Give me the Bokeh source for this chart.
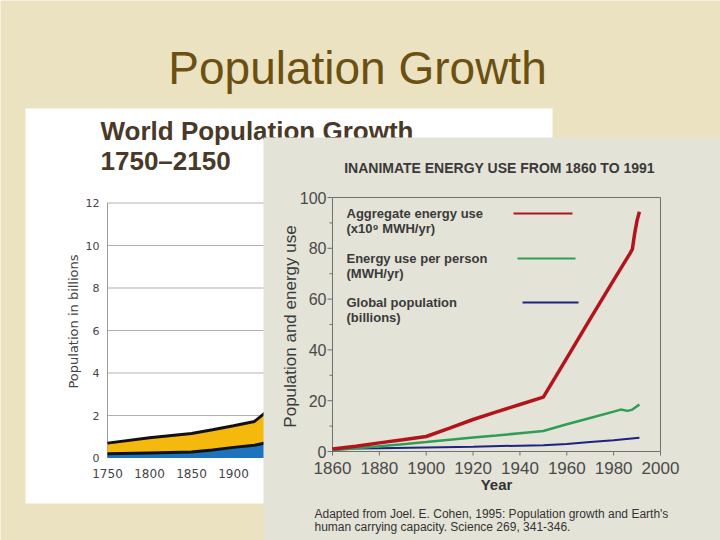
import math
from bokeh.plotting import figure
from bokeh.models import Range1d
from bokeh.core.properties import value
from bokeh.embed import file_html
from bokeh.resources import INLINE

# ---------------- data ----------------
slide_title = "Population Growth"

# World Population Growth 1750-2150 (billions), stacked
pop_title = "World Population Growth"
pop_subtitle = "1750\u20132150"
pop_years = [1750, 1800, 1850, 1875, 1900, 1925, 1950]
pop_developed = [0.20, 0.24, 0.28, 0.38, 0.50, 0.60, 0.81]
pop_total = [0.70, 0.95, 1.15, 1.33, 1.52, 1.72, 2.52]
pop_yticks = [0, 2, 4, 6, 8, 10, 12]
pop_xticks = [1750, 1800, 1850, 1900]
pop_ylabel = "Population in billions"

# Inanimate energy use 1860-1991
energy_title = "INANIMATE ENERGY USE FROM 1860 TO 1991"
agg_years = [1860, 1870, 1880, 1890, 1900, 1910, 1920, 1930, 1940, 1950,
             1960, 1970, 1980, 1987, 1988, 1989, 1990, 1991]
agg_energy = [1.0, 2.1, 3.4, 4.6, 5.9, 9.2, 12.6, 15.6, 18.5, 21.4,
              36.8, 52.2, 67.5, 78.0, 79.7, 86.0, 91.0, 94.4]
pp_years = [1860, 1870, 1880, 1890, 1900, 1910, 1920, 1930, 1940, 1950,
            1960, 1970, 1980, 1983, 1986, 1988, 1991]
per_person = [0.5, 1.3, 2.1, 2.9, 3.7, 4.6, 5.5, 6.3, 7.2, 8.1,
              10.7, 13.2, 15.7, 16.5, 16.0, 16.5, 18.5]
gp_years = [1860, 1880, 1900, 1920, 1940, 1950, 1960, 1970, 1980, 1991]
global_pop = [1.1, 1.3, 1.6, 1.9, 2.3, 2.5, 3.0, 3.7, 4.4, 5.4]
energy_xticks = [1860, 1880, 1900, 1920, 1940, 1960, 1980, 2000]
energy_yticks = [0, 20, 40, 60, 80, 100]
energy_yminor = [10, 30, 50, 70, 90]
energy_xlabel = "Year"
energy_ylabel = "Population and energy use"
legend_names = [["Aggregate energy use", "(x10\u2079 MWH/yr)"],
                ["Energy use per person", "(MWH/yr)"],
                ["Global population", "(billions)"]]
citation = ["Adapted from Joel. E. Cohen, 1995:  Population growth and Earth's",
            "human carrying capacity.  Science 269, 341-346."]

# ---------------- layout / style ----------------
BG = "#ebe2c2"
PANEL_E = "#e4e3d7"
RED = "#b3141c"
GREEN = "#2e9e55"
NAVY = "#1c2380"
BLUE = "#1e73be"
YELLOW = "#f5b80c"
FONT = value("Liberation Sans")
FONT2 = value("DejaVu Sans")

W, H = 720, 540


def mapped(v0, p0, v1, p1, pa, pb):
    k = (v1 - v0) / (p1 - p0)
    return Range1d(start=v0 + (pa - p0) * k, end=v0 + (pb - p0) * k)


p = figure(width=W, height=H,
           x_range=Range1d(0, W), y_range=Range1d(H, 0),
           x_axis_location=None, y_axis_location=None,
           output_backend="svg", toolbar_location=None, min_border=0,
           outline_line_color=None, background_fill_color=BG,
           border_fill_color=BG)
p.grid.visible = False

p.extra_x_ranges = {
    "ex": mapped(1860, 332, 2000, 660, 0, W),
    "px": mapped(1750, 107, 1900, 233, 0, W),
}
p.extra_y_ranges = {
    "ey": mapped(0, 451, 100, 197, H, 0),
    "py": mapped(0, 457.5, 12, 202.5, H, 0),
}

# slide title
p.text(x=[357], y=[67], text=[slide_title], text_font=FONT,
       text_font_size="46px", text_color="#6b5012",
       text_align="center", text_baseline="middle")

# ---------- left picture: world population ----------
p.quad(left=[25], right=[552], top=[108], bottom=[503],
       fill_color="white", line_color=None)

P = dict(x_range_name="px", y_range_name="py")
p.segment(x0=[1750] * 6, x1=[2150] * 6, y0=pop_yticks[1:], y1=pop_yticks[1:],
          line_color="#b0b0b0", line_width=1, **P)
p.segment(x0=[1750], x1=[1750], y0=[0], y1=[12], line_color="#9a9a9a",
          line_width=1, **P)
p.varea(x=pop_years, y1=[0] * len(pop_years), y2=pop_developed,
        fill_color=BLUE, **P)
p.varea(x=pop_years, y1=pop_developed, y2=pop_total, fill_color=YELLOW, **P)
p.line(x=pop_years, y=pop_developed, line_color="#111111", line_width=3, **P)
p.line(x=pop_years, y=pop_total, line_color="#111111", line_width=3, **P)
p.text(x=[1750] * len(pop_yticks), y=pop_yticks,
       text=[str(t) for t in pop_yticks], x_offset=-8,
       text_font=FONT2, text_font_size="11px", text_color="#444444",
       text_align="right", text_baseline="middle", **P)
p.text(x=pop_xticks, y=[0] * len(pop_xticks),
       text=[str(t) for t in pop_xticks], y_offset=15,
       text_font=FONT2, text_font_size="12px", text_color="#444444",
       text_align="center", text_baseline="middle", **P)
p.text(x=[73], y=[321], text=[pop_ylabel], angle=math.pi / 2,
       text_font=FONT2, text_font_size="13px", text_color="#444444",
       text_align="center", text_baseline="middle")
p.text(x=[100, 100], y=[130, 160], text=[pop_title, pop_subtitle],
       text_font=FONT, text_font_style="bold", text_font_size="26px",
       text_color="#4a3828", text_align="left", text_baseline="middle")

# ---------- right picture: energy use ----------
p.quad(left=[263], right=[725], top=[137], bottom=[545],
       fill_color=PANEL_E, line_color=None)

E = dict(x_range_name="ex", y_range_name="ey")
p.quad(left=[1860], right=[2000], bottom=[0], top=[100],
       fill_color=None, line_color="#707070", line_width=1, **E)
p.ray(x=[1860] * len(energy_yticks), y=energy_yticks, length=5,
      length_units="screen", angle=math.pi, line_color="#707070", **E)
p.ray(x=[1860] * len(energy_yminor), y=energy_yminor, length=3,
      length_units="screen", angle=math.pi, line_color="#707070", **E)
p.ray(x=energy_xticks, y=[0] * len(energy_xticks), length=4,
      length_units="screen", angle=-math.pi / 2, line_color="#707070", **E)
p.text(x=[1860] * len(energy_yticks), y=energy_yticks,
       text=[str(t) for t in energy_yticks], x_offset=-6,
       text_font=FONT, text_font_size="16px", text_color="#4a4a4a",
       text_align="right", text_baseline="middle", **E)
p.text(x=energy_xticks, y=[0] * len(energy_xticks),
       text=[str(t) for t in energy_xticks], y_offset=16,
       text_font=FONT, text_font_size="17px", text_color="#4a4a4a",
       text_align="center", text_baseline="middle", **E)

p.line(x=gp_years, y=global_pop, line_color=NAVY, line_width=2, **E)
p.line(x=pp_years, y=per_person, line_color=GREEN, line_width=2.5, **E)
p.line(x=agg_years, y=agg_energy, line_color=RED, line_width=3.5, **E)

p.text(x=[1930], y=[0], text=[energy_xlabel], y_offset=33,
       text_font=FONT, text_font_style="bold", text_font_size="15px",
       text_color="#333333", text_align="center", text_baseline="middle", **E)
p.text(x=[290], y=[326], text=[energy_ylabel], angle=math.pi / 2,
       text_font=FONT, text_font_size="17px", text_color="#3a3a3a",
       text_align="center", text_baseline="middle")
p.text(x=[499], y=[167], text=[energy_title],
       text_font=FONT, text_font_style="bold", text_font_size="14px",
       text_color="#3a3a3a", text_align="center", text_baseline="middle")

# legend
leg_y = [213, 258, 302]
leg_colors = [RED, GREEN, NAVY]
leg_x0 = [513, 517, 522]
leg_x1 = [572, 575, 578]
for (l1, l2), yy, c, a, b in zip(legend_names, leg_y, leg_colors, leg_x0, leg_x1):
    p.text(x=[346, 346], y=[yy, yy + 15], text=[l1, l2],
           text_font=FONT, text_font_style="bold", text_font_size="13px",
           text_color="#3a3a3a", text_align="left", text_baseline="middle")
    p.segment(x0=[a], x1=[b], y0=[yy], y1=[yy], line_color=c, line_width=2)

p.text(x=[314, 314], y=[513, 526], text=citation,
       text_font=FONT, text_font_size="12px", text_color="#333333",
       text_align="left", text_baseline="middle")

open("out.html", "w").write(file_html(p, INLINE))
